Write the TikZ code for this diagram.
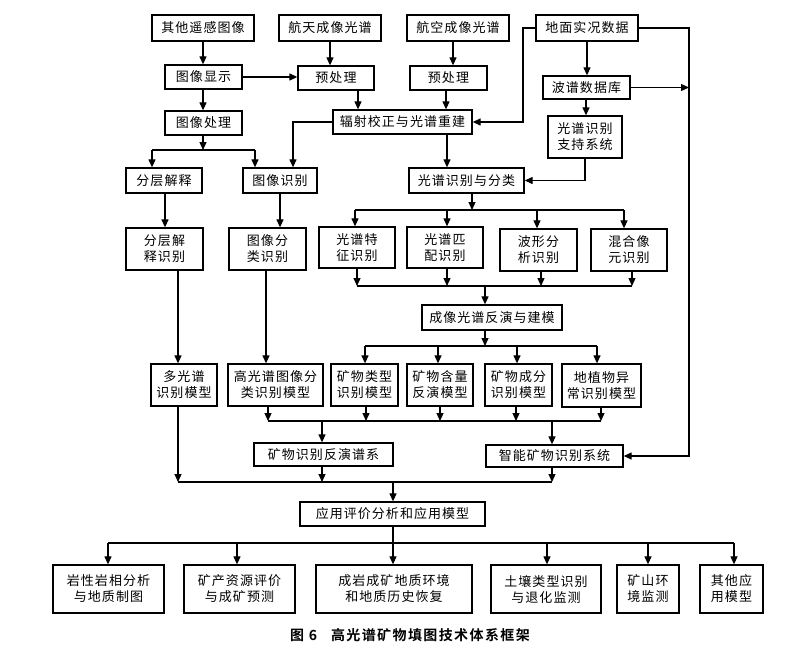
\documentclass[tikz,border=0pt]{standalone}
\usepackage{fontspec}
\usetikzlibrary{arrows.meta}
\newfontfamily\cjk[LetterSpace=8]{Noto Sans CJK SC}
\newfontfamily\cjkb[LetterSpace=10,BoldFont={Noto Sans CJK SC Bold}]{Noto Sans CJK SC}
\newcommand\bx[6]{\node[box,minimum width={(#4-#2)*1pt},minimum height={(#5-#3)*1pt}] (#1) at ({(#2+#4)/2},{(#3+#5)/2}) {#6};}
\begin{document}
\begin{tikzpicture}[x=1pt,y=-1pt,
  box/.style={draw,line width=1.3pt,inner sep=0pt,align=center,font=\cjk\fontsize{13}{16}\selectfont},
  arr/.style={-{Triangle[length=8pt,width=7pt]},line width=1.2pt},
  ln/.style={line width=1.2pt}]
\useasboundingbox[fill=white] (0,0) rectangle (805,661);
% row 1
\bx{q1}{152}{15}{254}{41}{其他遥感图像}
\bx{q2}{279}{15}{381}{41}{航天成像光谱}
\bx{q3}{407}{15}{509}{41}{航空成像光谱}
\bx{q4}{536}{15}{638}{41}{地面实况数据}
% row 2
\bx{xs}{165}{65}{242}{89}{图像显示}
\bx{y1}{298}{66}{374}{90}{预处理}
\bx{y2}{410}{66}{487}{90}{预处理}
\bx{db}{543}{76}{630}{99}{波谱数据库}
% row 3
\bx{cl}{165}{111}{242}{135}{图像处理}
\bx{fs}{333}{110}{472}{134}{辐射校正与光谱重建}
\bx{zc}{548}{116}{622}{158}{光谱识别\\支持系统}
% row 4
\bx{fc}{126}{168}{202}{193}{分层解释}
\bx{ts}{243}{168}{317}{193}{图像识别}
\bx{gf}{409}{168}{524}{193}{光谱识别与分类}
% row 5
\bx{fcs}{126}{228}{203}{270}{分层解\\释识别}
\bx{tfl}{229}{228}{306}{270}{图像分\\类识别}
\bx{r1}{319}{227}{395}{268}{光谱特\\征识别}
\bx{r2}{407}{227}{483}{268}{光谱匹\\配识别}
\bx{r3}{500}{229}{577}{271}{波形分\\析识别}
\bx{r4}{591}{229}{667}{271}{混合像\\元识别}
\bx{fy}{422}{305}{562}{330}{成像光谱反演与建模}
% row 6
\bx{m1}{151}{364}{217}{406}{多光谱\\识别模型}
\bx{m2}{228}{364}{323}{406}{高光谱图像分\\类识别模型}
\bx{m3}{331}{364}{398}{406}{矿物类型\\识别模型}
\bx{m4}{407}{364}{473}{406}{矿物含量\\反演模型}
\bx{m5}{485}{364}{552}{406}{矿物成分\\识别模型}
\bx{m6}{562}{364}{641}{407}{地植物异\\常识别模型}
% row 7
\bx{pu}{254}{443}{393}{466}{矿物识别反演谱系}
\bx{zn}{486}{445}{623}{467}{智能矿物识别系统}
\bx{yy}{300}{502}{485}{526}{应用评价分析和应用模型}
% row 8
\bx{a1}{53}{565}{164}{613}{岩性岩相分析\\与地质制图}
\bx{a2}{184}{565}{295}{613}{矿产资源评价\\与成矿预测}
\bx{a3}{316}{565}{472}{613}{成岩成矿地质环境\\和地质历史恢复}
\bx{a4}{491}{565}{601}{613}{土壤类型识别\\与退化监测}
\bx{a5}{617}{565}{679}{613}{矿山环\\境监测}
\bx{a6}{700}{565}{763}{613}{其他应\\用模型}
% caption
\node[font=\cjkb\bfseries\fontsize{14}{16}\selectfont,inner sep=0pt] (cap) at (410,635) {图 6\quad 高光谱矿物填图技术体系框架};
% junction coordinates
\coordinate (j1) at (203,150);
\coordinate (j2) at (472,210);
\coordinate (j3) at (485,286);
\coordinate (j4) at (485,346);
\coordinate (j5) at (322,421);
\coordinate (j6) at (552,421);
\coordinate (j7) at (393,482);
\coordinate (j8) at (393,543);
% top arrows
\draw[arr] (q1.south) -- (q1.south |- xs.north);
\draw[arr] (xs.east) -- (xs.east -| y1.west);
\draw[arr] (330,0 |- q2.south) -- (330,0 |- y1.north);
\draw[arr] (453,0 |- q3.south) -- (453,0 |- y2.north);
\draw[arr] (203,0 |- xs.south) -- (203,0 |- cl.north);
\draw[arr] (358,0 |- y1.south) -- (358,0 |- fs.north);
\draw[arr] (446,0 |- y2.south) -- (446,0 |- fs.north);
\draw[arr] (587,0 |- q4.south) -- (587,0 |- db.north);
\draw[arr] (586,0 |- db.south) -- (586,0 |- zc.north);
\draw[arr] (q4.west) -| (523,0 |- fs.east) -- (fs.east);
\draw[arr] (q4.east) -| (689,0 |- zn.east) -- (zn.east);
\draw[arr] (db.east) -- (689,0 |- db.east);
\draw[arr] (zc.south) |- (gf.east);
% image branch
\draw[arr] (203,0 |- cl.south) -- (j1);
\draw[ln] (152,150) -- (255,150);
\draw[arr] (152,150) -- (152,0 |- fc.north);
\draw[arr] (255,150) -- (255,0 |- ts.north);
\draw[arr] (fs.west) -| (293,0 |- ts.north);
\draw[arr] (447,0 |- fs.south) -- (447,0 |- gf.north);
\draw[arr] (165,0 |- fc.south) -- (165,0 |- fcs.north);
\draw[arr] (280,0 |- ts.south) -- (280,0 |- tfl.north);
\draw[arr] (178,0 |- fcs.south) -- (178,0 |- m1.north);
\draw[arr] (266,0 |- tfl.south) -- (266,0 |- m2.north);
% spectral branch
\draw[arr] (472,0 |- gf.south) -- (j2);
\draw[ln] (355,210) -- (624,210);
\draw[arr] (355,210) -- (355,0 |- r1.north);
\draw[arr] (447,210) -- (447,0 |- r2.north);
\draw[arr] (537,210) -- (537,0 |- r3.north);
\draw[arr] (624,210) -- (624,0 |- r4.north);
\draw[arr] (357,0 |- r1.south) -- (357,286);
\draw[arr] (447,0 |- r2.south) -- (447,286);
\draw[arr] (541,0 |- r3.south) -- (541,286);
\draw[arr] (632,0 |- r4.south) -- (632,286);
\draw[ln] (357,286) -- (632,286);
\draw[arr] (j3) -- (j3 |- fy.north);
\draw[arr] (j3 |- fy.south) -- (j4);
\draw[ln] (365,346) -- (597,346);
\draw[arr] (365,346) -- (365,0 |- m3.north);
\draw[arr] (438,346) -- (438,0 |- m4.north);
\draw[arr] (517,346) -- (517,0 |- m5.north);
\draw[arr] (597,346) -- (597,0 |- m6.north);
% models to systems
\draw[arr] (268,0 |- m2.south) -- (268,421);
\draw[arr] (366,0 |- m3.south) -- (366,421);
\draw[arr] (440,0 |- m4.south) -- (440,421);
\draw[arr] (516,0 |- m5.south) -- (516,421);
\draw[arr] (601,0 |- m6.south) -- (601,421);
\draw[ln] (268,421) -- (601,421);
\draw[arr] (j5) -- (j5 |- pu.north);
\draw[arr] (j6) -- (j6 |- zn.north);
% to application
\draw[arr] (178,0 |- m1.south) -- (178,482);
\draw[arr] (322,0 |- pu.south) -- (322,482);
\draw[arr] (552,0 |- zn.south) -- (552,482);
\draw[ln] (178,482) -- (552,482);
\draw[arr] (j7) -- (j7 |- yy.north);
\draw[ln] (j8 |- yy.south) -- (j8);
\draw[ln] (108,543) -- (734,543);
\draw[arr] (108,543) -- (108,0 |- a1.north);
\draw[arr] (237,543) -- (237,0 |- a2.north);
\draw[arr] (j8) -- (j8 |- a3.north);
\draw[arr] (547,543) -- (547,0 |- a4.north);
\draw[arr] (648,543) -- (648,0 |- a5.north);
\draw[arr] (734,543) -- (734,0 |- a6.north);
\end{tikzpicture}
\end{document}
